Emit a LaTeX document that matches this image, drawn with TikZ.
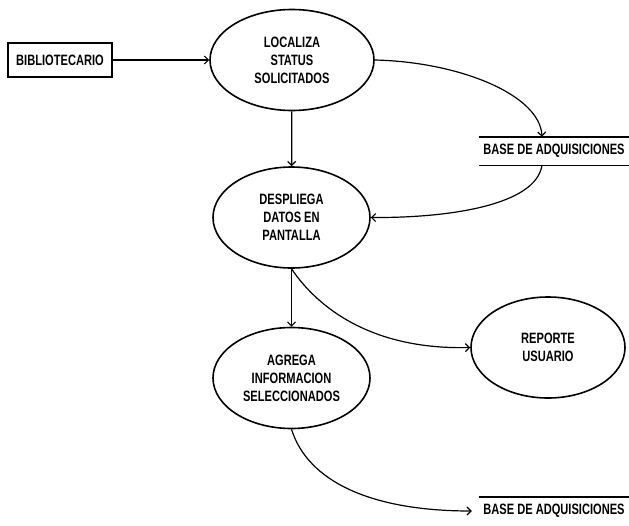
\documentclass[tikz,border=0pt]{standalone}
\usepackage{fontspec}
\setmainfont{Liberation Sans}[FakeStretch=0.74]
\usetikzlibrary{arrows.meta,shapes.geometric}

\begin{document}
\begin{tikzpicture}[x=1pt,y=-1pt,
  txt/.style={font=\bfseries\fontsize{15}{18}\selectfont,align=center},
  ent/.style={txt,draw,line width=1.4pt,minimum width=104pt,minimum height=34pt,inner sep=0pt},
  proc/.style={txt,ellipse,draw,line width=1.6pt,minimum width=157pt,minimum height=101pt,inner sep=0pt},
  store/.style={txt,minimum width=150pt,minimum height=28pt,inner sep=0pt},
  flow/.style={line width=1.2pt,-{Straight Barb[length=4pt,width=8pt]}}]
  \useasboundingbox (0,0) rectangle (629,525);
  \node[ent] (bib) at (60,60) {BIBLIOTECARIO};
  \node[proc,minimum width=164pt] (loc) at (292,60) {LOCALIZA\\STATUS\\SOLICITADOS};
  \node[proc] (des) at (291.5,217.5) {DESPLIEGA\\DATOS EN\\PANTALLA};
  \node[proc] (agr) at (291.5,378) {AGREGA\\INFORMACION\\SELECCIONADOS};
  \node[proc,minimum width=154pt] (rep) at (548,347.5) {REPORTE\\USUARIO};
  % almacenes
  \node[store] (st1) at (554,151) {BASE DE ADQUISICIONES};
  \draw[line width=1.4pt] (st1.north west) -- (st1.north east) (st1.south west) -- (st1.south east);
  \node[store] (st2) at (554,511) {BASE DE ADQUISICIONES};
  \draw[line width=1.4pt] (st2.north west) -- (st2.north east);
  % flujos
  \draw[flow] (bib) -- (loc);
  \draw[flow] (loc) -- (des);
  \draw[flow] (loc.east) .. controls (460,62) and (540,95) .. ([xshift=-12pt]st1.north);
  \draw[flow] ([xshift=-12pt]st1.south) .. controls (536,205) and (450,218) .. (des.east);
  \draw[flow] (des) -- (agr);
  \draw[flow] (des.south) .. controls (318,308) and (372,350) .. (rep.west);
  \draw[flow] (agr.south) .. controls (308,482) and (372,511) .. ([xshift=-7pt]st2.west);
\end{tikzpicture}
\end{document}
